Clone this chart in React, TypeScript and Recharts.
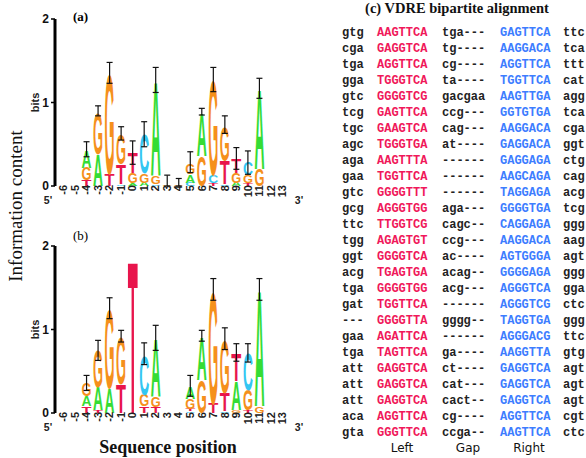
import { ComposedChart, Bar, XAxis, YAxis } from "recharts";

const POSITIONS = ["-6", "-5", "-4", "-3", "-2", "-1", "0", "1", "2", "3", "4", "5", "6", "7", "8", "9", "10", "11", "12", "13"];

// letters per position, bottom -> top, with their heights in bits
const LETTERS_A = ["", "", "TGA", "AG", "TG", "CTG", "AGT", "AGC", "CGA", "G", "G", "CAG", "GA", "TCG", "CTG", "AGT", "TGC", "GA", "", ""];
const HEIGHTS_A = [
  [], [], [0.07, 0.15, 0.21], [0.38, 0.5], [0.14, 1.21], [0.02, 0.24, 0.36], [0.03, 0.12, 0.25],
  [0.04, 0.11, 0.47], [0.02, 0.1, 1.15], [0.02], [0.01], [0.04, 0.1, 0.13], [0.36, 0.53],
  [0.03, 0.1, 1.14], [0.02, 0.28, 0.42], [0.04, 0.12, 0.17], [0.03, 0.1, 0.15], [0.2, 0.97], [], [],
];
const ERR_A: ([number, number] | null)[] = [
  null, null, [0.35, 0.53], [0.84, 0.96], [1.23, 1.48], [0.55, 0.71], [0.26, 0.54], [0.47, 0.77],
  [1.12, 1.42], [0, 0.13], [0, 0.09], [0.16, 0.41], [0.85, 0.93], [1.13, 1.42], [0.63, 0.84],
  [0.2, 0.46], [0.14, 0.42], [1.05, 1.29], null, null,
];

const LETTERS_B = ["", "", "TAG", "TAG", "AG", "TG", "T", "TGC", "TGA", "", "", "CTGA", "GA", "TG", "CTG", "GAT", "TGC", "GA", "", ""];
const HEIGHTS_B = [
  [], [], [0.08, 0.12, 0.16], [0.03, 0.28, 0.44], [0.3, 0.96], [0.35, 0.57], [1.87],
  [0.08, 0.14, 0.48], [0.07, 0.13, 0.7], [], [], [0.02, 0.03, 0.12, 0.14], [0.4, 0.53],
  [0.12, 1.36], [0.02, 0.22, 0.64], [0.03, 0.35, 0.34], [0.03, 0.25, 0.44], [0.08, 1.42], [], [],
];
const ERR_B: ([number, number] | null)[] = [
  null, null, [0.27, 0.45], [0.63, 0.87], [1.13, 1.38], [0.85, 0.99], null, [0.58, 0.84],
  [0.75, 1.05], null, null, [0.2, 0.45], [0.86, 0.99], [1.35, 1.61], [0.76, 1.02],
  [0.62, 0.83], [0.61, 0.83], [1.35, 1.61], null, null,
];

const Y_TICKS = [0, 1, 2];

// alignment table (c)
const PREFIX = ["gtg", "cga", "tga", "gga", "gtc", "tcg", "tgc", "agc", "aga", "gaa", "gtc", "gcg", "ttc", "tgg", "ggt", "acg", "tga", "gat", "---", "gaa", "tga", "att", "att", "att", "aca", "gta"];
const LEFT = ["AAGTTCA", "GAGGTCA", "AGGTTCA", "TGGGTCA", "GGGGTCG", "GAGTTCA", "GAAGTCA", "TGGGTGA", "AAGTTTA", "TGGTTCA", "GGGGTTT", "AGGGTGG", "TTGGTCG", "AGAGTGT", "GGGGTCA", "TGAGTGA", "GGGGTGG", "TGGTTCA", "GGGGTTA", "AGATTCA", "TAGTTCA", "GAGGTCA", "GAGGTCA", "GAGGTCA", "AGGTTCA", "GGGTTCA"];
const GAP = ["tga---", "tg----", "cg----", "ta----", "gacgaa", "ccg---", "cag---", "at----", "------", "------", "------", "aga---", "cagc--", "ccg---", "ac----", "acag--", "acg---", "------", "gggg--", "------", "ga----", "ct----", "cat---", "cact--", "cg----", "ccga--"];
const RIGHT = ["GAGTTCA", "AAGGACA", "AGGTTCA", "TGGTTCA", "AAGTTGA", "GGTGTGA", "AAGGACA", "GAGGACA", "GAGGAGA", "AAGCAGA", "TAGGAGA", "GGGGTGA", "CAGGAGA", "AAGGACA", "AGTGGGA", "GGGGAGA", "AGGGTCA", "AGGGTCG", "TAGGTGA", "AGGGACG", "AAGGTTA", "GAGGTCA", "GAGGTCA", "GAGGTCA", "AGGTTCA", "AAGTTCA"];
const SUFFIX = ["ttc", "tca", "ttt", "cat", "agg", "tca", "cga", "ggt", "ctg", "cag", "acg", "tcg", "ggg", "aag", "agt", "ggg", "gga", "ctc", "ggg", "ttc", "gtg", "agt", "agt", "agt", "cgt", "ctc"];
const COLUMN_LABELS = ["Left", "Gap", "Right"];
const COLUMN_LABEL_X = [402, 468, 529];

const LETTER_COLORS: Record<string, string> = {
  A: "#35dc35",
  C: "#33c6f2",
  G: "#f5901c",
  T: "#e8154c",
};

const SANS = "'Liberation Sans', Arial, sans-serif";
const SERIF = "'Liberation Serif', 'Times New Roman', serif";
const MONO = "'Liberation Mono', 'Courier New', monospace";
const CAP = 0.716;

function buildRows(letters: string[], heights: number[][], errs: ([number, number] | null)[]) {
  return POSITIONS.map((pos, i) => {
    const row: any = { pos };
    for (let k = 0; k < 4; k++) {
      row["s" + k] = heights[i][k] ?? 0;
      row["l" + k] = letters[i][k] ?? "";
    }
    const e = errs[i];
    row.eLo = e ? e[0] : 0;
    row.eSpan = e ? e[1] - e[0] : 0;
    return row;
  });
}

const rowsA = buildRows(LETTERS_A, HEIGHTS_A, ERR_A);
const rowsB = buildRows(LETTERS_B, HEIGHTS_B, ERR_B);

// stretch one glyph to fill the bar's box
function Letter(props: any) {
  const { x, y, width, height, letter } = props;
  if (!letter || !(height > 0.2)) return null;
  const F = 100;
  return (
    <text
      x={x}
      y={0}
      fontSize={F}
      fontFamily={SANS}
      fontWeight="bold"
      fill={LETTER_COLORS[letter]}
      textLength={width}
      lengthAdjust="spacingAndGlyphs"
      transform={`translate(0 ${y + height}) scale(1 ${height / (CAP * F)})`}
    >
      {letter}
    </text>
  );
}

function ErrBeam(props: any) {
  const { x, y, width, height } = props;
  if (!(height > 0.5)) return null;
  const cx = x + width / 2;
  return (
    <g stroke="#111" strokeWidth={1.2}>
      <line x1={cx} y1={y} x2={cx} y2={y + height} />
      <line x1={cx - 3} y1={y} x2={cx + 3} y2={y} />
      <line x1={cx - 3} y1={y + height} x2={cx + 3} y2={y + height} />
    </g>
  );
}

function PosTick(props: any) {
  const { x, y, payload } = props;
  return (
    <text
      transform={`translate(${x},${y - 1}) rotate(-90)`}
      textAnchor="end"
      dy="0.36em"
      fontSize={11}
      fontWeight="bold"
      fontFamily={SANS}
      fill="#222"
    >
      {payload.value}
    </text>
  );
}

function Logo({ rows }: { rows: any[] }) {
  return (
    <ComposedChart
      width={310}
      height={206}
      data={rows}
      margin={{ top: 19, right: 22, bottom: 0, left: 0 }}
      barCategoryGap={1}
    >
      <XAxis
        dataKey="pos"
        interval={0}
        axisLine={false}
        tickLine={false}
        tickSize={0}
        tickMargin={0}
        height={20}
        padding={{ left: 2.5, right: 0 }}
        tick={<PosTick />}
      />
      <XAxis xAxisId="e" dataKey="pos" hide padding={{ left: 2.5, right: 0 }} />
      <YAxis
        width={55}
        domain={[0, 2]}
        ticks={Y_TICKS}
        axisLine={{ stroke: "#000", strokeWidth: 3 }}
        tickLine={{ stroke: "#000", strokeWidth: 1.5 }}
        tickSize={4}
        tick={{ fontSize: 12, fontWeight: "bold", fontFamily: SANS, fill: "#111" }}
      />
      {[0, 1, 2, 3].map((k) => (
        <Bar
          key={k}
          dataKey={"s" + k}
          stackId="logo"
          isAnimationActive={false}
          shape={(p: any) => <Letter {...p} letter={p.payload["l" + k]} />}
        />
      ))}
      <Bar dataKey="eLo" xAxisId="e" stackId="err" fill="none" isAnimationActive={false} shape={() => null} />
      <Bar dataKey="eSpan" xAxisId="e" stackId="err" isAnimationActive={false} shape={(p: any) => <ErrBeam {...p} />} />
    </ComposedChart>
  );
}

function Labels() {
  const rowY = (i: number) => 36.3 + i * 16;
  return (
    <svg width={586} height={458} style={{ position: "absolute", left: 0, top: 0, pointerEvents: "none" }}>
      <text x={73} y={21} fontFamily={SERIF} fontWeight="bold" fontSize={13}>(a)</text>
      <text x={73} y={240} fontFamily={SERIF} fontSize={13}>(b)</text>
      {[102.5, 329.5].map((cy) => (
        <text key={cy} transform={`translate(39 ${cy}) rotate(-90)`} textAnchor="middle" fontFamily={SANS} fontWeight="bold" fontSize={11} fill="#222">
          bits
        </text>
      ))}
      {[204, 431].map((by) => (
        <g key={by} fontFamily={SANS} fontWeight="bold" fontSize={10.5} fill="#222" textAnchor="middle">
          <text x={48} y={by}>5'</text>
          <text x={299} y={by}>3'</text>
        </g>
      ))}
      <text transform="translate(22 206) rotate(-90)" textAnchor="middle" fontFamily={SERIF} fontSize={19} fill="#111">
        Information content
      </text>
      <text x={168} y={453} textAnchor="middle" fontFamily={SERIF} fontWeight="bold" fontSize={18} fill="#111">
        Sequence position
      </text>

      <text x={457} y={13} textAnchor="middle" fontFamily={SERIF} fontWeight="bold" fontSize={14.5} fill="#111">
        (c) VDRE bipartite alignment
      </text>
      <g fontFamily={MONO} fontWeight="bold" fontSize={12}>
        {PREFIX.map((s, i) => (
          <g key={i}>
            <text x={342} y={rowY(i)} fill="#222">{s}</text>
            <text x={377} y={rowY(i)} fill="#f0185a">{LEFT[i]}</text>
            <text x={442} y={rowY(i)} fill="#222">{GAP[i]}</text>
            <text x={500} y={rowY(i)} fill="#3d7dff">{RIGHT[i]}</text>
            <text x={563} y={rowY(i)} fill="#222">{SUFFIX[i]}</text>
          </g>
        ))}
      </g>
      <g fontFamily={"'DejaVu Sans', sans-serif"} fontSize={12} fill="#111" textAnchor="middle">
        {COLUMN_LABELS.map((t, i) => (
          <text key={t} x={COLUMN_LABEL_X[i]} y={452}>{t}</text>
        ))}
      </g>
    </svg>
  );
}

export default function App() {
  return (
    <div style={{ position: "absolute", left: 0, top: 0, width: 586, height: 458, background: "#fff" }}>
      <div style={{ position: "absolute", left: 0, top: 0 }}>
        <Logo rows={rowsA} />
      </div>
      <div style={{ position: "absolute", left: 0, top: 227 }}>
        <Logo rows={rowsB} />
      </div>
      <Labels />
    </div>
  );
}
